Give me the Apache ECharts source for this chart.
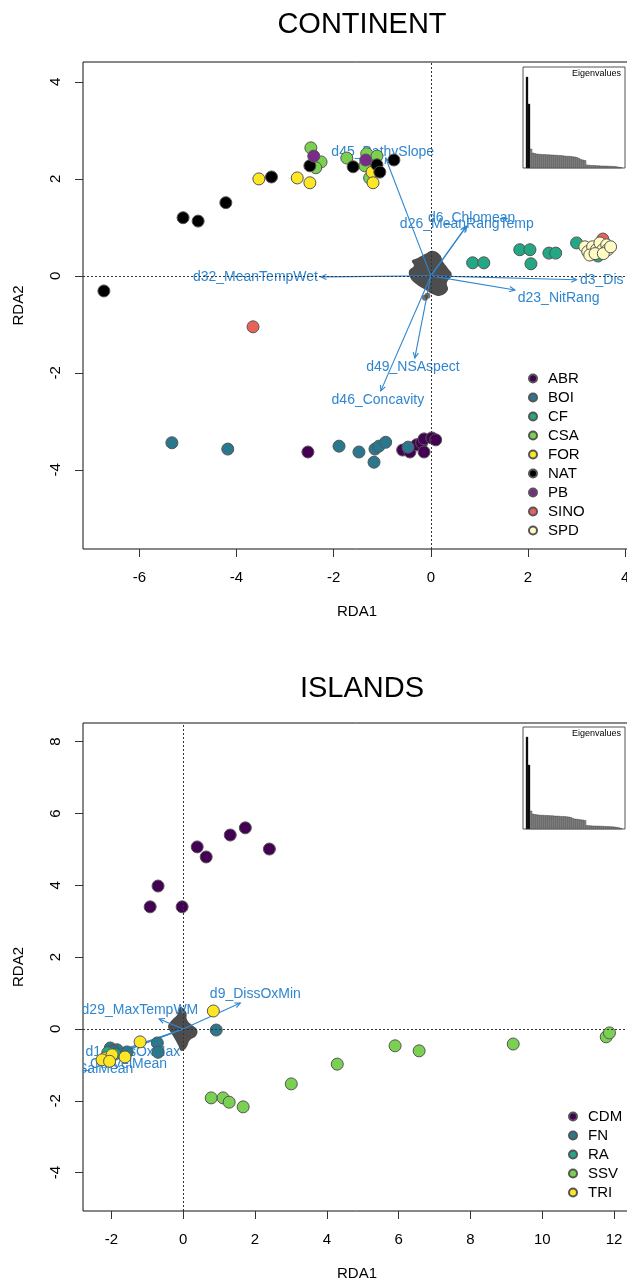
<!DOCTYPE html>
<html>
<head>
<meta charset="utf-8">
<script src="https://cdn.jsdelivr.net/npm/echarts@6/dist/echarts.min.js"></script>
<style>
  html, body { margin: 0; padding: 0; background: #fff; }
  #main { width: 627px; height: 1286px; }
</style>
</head>
<body>
<div id="main"></div>
<script>
// ---- continent data ----
var contGroups = ['ABR', 'BOI', 'CF', 'CSA', 'FOR', 'NAT', 'PB', 'SINO', 'SPD'];
var contColors = ['#440154', '#2A788E', '#22A884', '#7AD151', '#FDE725', '#000000', '#7B2A8C', '#E8625A', '#FFFBC2'];
var contABR = [[-2.53, -3.63], [-0.58, -3.59], [-0.43, -3.63], [-0.29, -3.48], [-0.19, -3.44], [-0.14, -3.36], [-0.14, -3.63], [0.02, -3.34], [0.10, -3.38]];
var contBOI = [[-5.33, -3.44], [-4.18, -3.57], [-1.89, -3.51], [-1.48, -3.63], [-1.15, -3.57], [-1.07, -3.51], [-0.93, -3.43], [-1.17, -3.84], [-0.47, -3.53]];
var contCF = [[0.86, 0.27], [1.09, 0.27], [1.83, 0.54], [2.04, 0.54], [2.06, 0.25], [2.43, 0.47], [2.57, 0.47], [3.00, 0.68], [3.44, 0.41], [3.30, 0.45]];
var contCSA = [[-2.47, 2.64], [-2.26, 2.35], [-2.37, 2.23], [-1.73, 2.43], [-1.32, 2.52], [-1.36, 2.27], [-1.11, 2.47], [-1.26, 2.02]];
var contFOR = [[-3.54, 2.00], [-2.75, 2.02], [-2.49, 1.92], [-1.21, 2.14], [-1.19, 1.92]];
var contNAT = [[-6.73, -0.31], [-5.10, 1.20], [-4.79, 1.13], [-4.22, 1.51], [-3.28, 2.04], [-2.49, 2.27], [-1.60, 2.25], [-1.11, 2.29], [-1.05, 2.14], [-0.76, 2.39]];
var contPB = [[-2.41, 2.47], [-1.34, 2.39]];
var contSINO = [[-3.66, -1.05], [3.54, 0.76]];
var contSPD = [[3.17, 0.60], [3.23, 0.50], [3.33, 0.60], [3.27, 0.43], [3.41, 0.54], [3.48, 0.68], [3.54, 0.54], [3.62, 0.64], [3.64, 0.54], [3.38, 0.46], [3.55, 0.46], [3.70, 0.60]];
var contPoints = [contABR, contBOI, contCF, contCSA, contFOR, contNAT, contPB, contSINO, contSPD];

// SNP cloud outline near the origin
var contCloud = [[-0.12, 0.45], [0.04, 0.52], [0.19, 0.43], [0.25, 0.29], [0.35, 0.16], [0.43, 0.02], [0.33, -0.14], [0.35, -0.29], [0.19, -0.41], [0.02, -0.37], [-0.10, -0.29], [-0.27, -0.19], [-0.41, -0.06], [-0.45, 0.10], [-0.35, 0.21], [-0.39, 0.31], [-0.27, 0.37]];
var contCloudDots = [[-0.12, -0.45], [-0.07, -0.41]];

var contArrowNames = ['d45_BathySlope', 'd32_MeanTempWet', 'd6_Chlomean', 'd26_MeanRangTemp', 'd3_Dis', 'd23_NitRang', 'd49_NSAspect', 'd46_Concavity'];
var contArrowTips = [[-0.93, 2.43], [-2.26, -0.02], [0.74, 1.03], [0.72, 1.01], [3.00, -0.08], [1.73, -0.29], [-0.33, -1.69], [-1.03, -2.37]];
var contLabelPos = [[-0.99, 2.56], [-3.61, -0.02], [0.84, 1.20], [0.74, 1.07], [3.07, -0.08], [2.63, -0.45], [-0.37, -1.88], [-1.09, -2.56]];
var contLabelAlign = ['center', 'center', 'center', 'center', 'left', 'center', 'center', 'center'];

var contEigen = [9.1, 6.4, 1.9, 1.5, 1.45, 1.4, 1.38, 1.36, 1.35, 1.34, 1.33, 1.32, 1.31, 1.3, 1.28, 1.27, 1.26, 1.25,
  1.22, 1.2, 1.18, 1.17, 1.15, 1.12, 1.1, 1.05, 0.95, 0.85, 0.8, 0.75,
  0.3, 0.28, 0.26, 0.25, 0.24, 0.23, 0.22, 0.21, 0.2, 0.2, 0.19, 0.18, 0.17, 0.16, 0.15, 0.12, 0.08, 0.05];

// ---- islands data ----
var islGroups = ['CDM', 'FN', 'RA', 'SSV', 'TRI'];
var islColors = ['#440154', '#2A788E', '#22A884', '#7AD151', '#FDE725'];
var islCDM = [[-0.92, 3.40], [-0.70, 3.98], [-0.03, 3.40], [0.39, 5.07], [0.64, 4.79], [1.31, 5.40], [1.73, 5.60], [2.40, 5.01]];
var islFN = [[0.92, -0.03], [-0.72, -0.39], [-0.70, -0.65], [-2.03, -0.53], [-1.84, -0.58], [-1.56, -0.64], [-1.95, -0.62]];
var islRA = [[-1.90, -0.70], [-2.10, -0.66]];
var islSSV = [[0.78, -1.92], [1.11, -1.92], [1.28, -2.04], [1.67, -2.17], [3.01, -1.53], [4.29, -0.98], [5.90, -0.47], [6.57, -0.61], [9.19, -0.42], [11.78, -0.22], [11.87, -0.11]];
var islTRI = [[0.84, 0.50], [-1.20, -0.36], [-2.17, -0.81], [-1.98, -0.72], [-1.62, -0.78], [-2.26, -0.86], [-2.05, -0.90]];
var islPoints = [islCDM, islFN, islRA, islSSV, islTRI];

var islCloud = [[-0.08, 0.61], [0.08, 0.47], [0.11, 0.25], [0.28, 0.08], [0.39, -0.03], [0.36, -0.19], [0.19, -0.31], [0.08, -0.53], [-0.06, -0.61], [-0.14, -0.45], [-0.25, -0.25], [-0.36, -0.08], [-0.42, 0.08], [-0.31, 0.25], [-0.17, 0.39]];

var islArrowNames = ['d9_DissOxMin', 'd29_MaxTempWM', 'd1_DissOxMax', 'd40_CurVelMean', 'd35_SalMean'];
var islArrowTips = [[1.59, 0.72], [-0.67, 0.28], [-1.75, -0.60], [-1.85, -0.68], [-1.95, -0.74]];
var islLabelPos = [[2.01, 0.97], [0.42, 0.53], [-0.08, -0.64], [-0.45, -0.97], [-1.39, -1.11]];
var islLabelAlign = ['center', 'right', 'right', 'right', 'right'];

var islEigen = [9.2, 6.4, 1.8, 1.5, 1.45, 1.42, 1.4, 1.38, 1.37, 1.36, 1.35, 1.34, 1.33, 1.32, 1.3, 1.29, 1.28, 1.26, 1.25, 1.24, 1.22, 1.2,
  1.15, 1.05, 1.0, 0.98, 0.95, 0.92, 0.9, 0.86,
  0.35, 0.33, 0.32, 0.31, 0.3, 0.3, 0.29, 0.28, 0.27, 0.26, 0.25, 0.24, 0.23, 0.22, 0.2, 0.17, 0.12, 0.06];

var xTicksCont = [-6, -4, -2, 0, 2, 4];
var yTicksCont = [-4, -2, 0, 2, 4];
var xTicksIsl = [-2, 0, 2, 4, 6, 8, 10, 12];
var yTicksIsl = [-4, -2, 0, 2, 4, 6, 8];

var FONT = '"Liberation Sans", Arial, Helvetica, sans-serif';
var ARROW = '#2F86CF';
var CLOUD = '#4D4D4D';

var chart = echarts.init(document.getElementById('main'), null, { renderer: 'canvas' });

function xAxisCfg(gi, min, max, ticks) {
  return {
    type: 'value', gridIndex: gi, min: min, max: max,
    axisLine: { show: false, onZero: false },
    splitLine: { show: false },
    axisTick: { show: true, length: 8, lineStyle: { color: '#333' }, customValues: ticks },
    axisLabel: { customValues: ticks, margin: 21, fontSize: 15, color: '#000', fontFamily: FONT },
    name: 'RDA1', nameLocation: 'middle', nameGap: 55,
    nameTextStyle: { fontSize: 15, color: '#000', fontFamily: FONT }
  };
}
function yAxisCfg(gi, min, max, ticks) {
  return {
    type: 'value', gridIndex: gi, min: min, max: max,
    axisLine: { show: false, onZero: false },
    splitLine: { show: false },
    axisTick: { show: true, length: 8, lineStyle: { color: '#333' }, customValues: ticks },
    axisLabel: { customValues: ticks, margin: 20, rotate: 90, fontSize: 15, color: '#000', fontFamily: FONT },
    name: 'RDA2', nameLocation: 'middle', nameGap: 57,
    nameTextStyle: { fontSize: 15, color: '#000', fontFamily: FONT }
  };
}
function hiddenAxis(gi, min, max) {
  return {
    type: 'value', gridIndex: gi, min: min, max: max,
    axisLine: { show: false, onZero: false }, axisTick: { show: false },
    axisLabel: { show: false }, splitLine: { show: false }
  };
}

function cloudSeries(gi, pts) {
  return {
    type: 'custom', xAxisIndex: gi, yAxisIndex: gi, silent: true,
    data: pts,
    renderItem: function (params, api) {
      if (params.dataIndex !== 0) return null;
      var poly = pts.map(function (p) { return api.coord(p); });
      return { type: 'polygon', shape: { points: poly, smooth: 0.45 }, style: { fill: CLOUD } };
    },
    markLine: {
      silent: true, symbol: ['none', 'none'], label: { show: false },
      lineStyle: { color: '#333', width: 1, type: [2, 2] },
      data: [{ xAxis: 0 }, { yAxis: 0 }]
    }
  };
}

function pointSeries(gi, names, colors, groups) {
  return names.map(function (n, i) {
    return {
      name: n, type: 'scatter', xAxisIndex: gi, yAxisIndex: gi,
      symbol: 'circle', symbolSize: 12,
      itemStyle: { color: colors[i], borderColor: '#555', borderWidth: 1, opacity: 1 },
      data: groups[i]
    };
  });
}

function arrowSeries(gi, tips) {
  return {
    type: 'custom', xAxisIndex: gi, yAxisIndex: gi, silent: true,
    data: tips.map(function (t) { return [0, 0, t[0], t[1]]; }),
    encode: { x: [0, 2], y: [1, 3] },
    renderItem: function (params, api) {
      var p0 = api.coord([api.value(0), api.value(1)]);
      var p1 = api.coord([api.value(2), api.value(3)]);
      var ang = Math.atan2(p1[1] - p0[1], p1[0] - p0[0]);
      var L = 6, a = Math.PI / 7;
      var h1 = [p1[0] - L * Math.cos(ang - a), p1[1] - L * Math.sin(ang - a)];
      var h2 = [p1[0] - L * Math.cos(ang + a), p1[1] - L * Math.sin(ang + a)];
      return {
        type: 'group', children: [
          { type: 'line', shape: { x1: p0[0], y1: p0[1], x2: p1[0], y2: p1[1] }, style: { stroke: ARROW, lineWidth: 1.1 } },
          { type: 'polyline', shape: { points: [h1, p1, h2] }, style: { stroke: ARROW, lineWidth: 1.1, fill: null } }
        ]
      };
    }
  };
}

function labelSeries(gi, pos, names, aligns) {
  return {
    type: 'custom', xAxisIndex: gi, yAxisIndex: gi, silent: true, clip: true,
    data: pos,
    renderItem: function (params, api) {
      var p = api.coord([api.value(0), api.value(1)]);
      return {
        type: 'text', x: p[0], y: p[1],
        style: {
          text: names[params.dataIndex], fill: ARROW, fontSize: 14, fontFamily: FONT,
          align: aligns[params.dataIndex], verticalAlign: 'middle'
        }
      };
    }
  };
}

// eigenvalue bars drawn as rects through the inset axes
function eigenSeries(gi, vals) {
  return {
    type: 'custom', xAxisIndex: gi, yAxisIndex: gi, silent: true,
    data: vals.map(function (v, i) { return [i + 1, v]; }),
    renderItem: function (params, api) {
      var top = api.coord([api.value(0) - 0.5, api.value(1)]);
      var bot = api.coord([api.value(0) + 0.5, 0]);
      return {
        type: 'rect',
        shape: { x: top[0], y: top[1], width: bot[0] - top[0], height: bot[1] - top[1] },
        style: { fill: params.dataIndex < 2 ? '#000' : '#8a8a8a', stroke: '#3a3a3a', lineWidth: 0.4 }
      };
    }
  };
}

var series = [];
series.push(cloudSeries(0, contCloud));
series.push({
  type: 'scatter', xAxisIndex: 0, yAxisIndex: 0, silent: true, symbolSize: 6,
  itemStyle: { color: CLOUD }, data: contCloudDots
});
series = series.concat(pointSeries(0, contGroups, contColors, contPoints));
series.push(arrowSeries(0, contArrowTips));
series.push(labelSeries(0, contLabelPos, contArrowNames, contLabelAlign));

series.push(cloudSeries(1, islCloud));
series = series.concat(pointSeries(1, islGroups, islColors, islPoints));
series.push(arrowSeries(1, islArrowTips));
series.push(labelSeries(1, islLabelPos, islArrowNames, islLabelAlign));

series.push(eigenSeries(2, contEigen));
series.push(eigenSeries(3, islEigen));

var legendBase = {
  orient: 'vertical', itemWidth: 8, itemHeight: 8, itemGap: 4, icon: 'circle',
  selectedMode: false, padding: 0,
  textStyle: { fontSize: 15, lineHeight: 15, color: '#000', fontFamily: FONT, padding: [0, 0, 0, 6] }
};

var option = {
  animation: false,
  backgroundColor: '#fff',
  title: [
    { text: 'CONTINENT', left: 357, top: 5, textAlign: 'center',
      textStyle: { fontSize: 29, fontWeight: 'normal', color: '#000', fontFamily: FONT } },
    { text: 'ISLANDS', left: 357, top: 669, textAlign: 'center',
      textStyle: { fontSize: 29, fontWeight: 'normal', color: '#000', fontFamily: FONT } },
    { text: 'Eigenvalues', right: 6, top: 69, padding: 0,
      textStyle: { fontSize: 9, fontWeight: 'normal', color: '#000', fontFamily: FONT } },
    { text: 'Eigenvalues', right: 6, top: 729, padding: 0,
      textStyle: { fontSize: 9, fontWeight: 'normal', color: '#000', fontFamily: FONT } }
  ],
  legend: [
    Object.assign({}, legendBase, { data: contGroups, left: 528, top: 371 }),
    Object.assign({}, legendBase, { data: islGroups, left: 568, top: 1109 })
  ],
  grid: [
    { left: 83, top: 62, width: 548, height: 487, show: true, borderColor: '#111', borderWidth: 1, outerBoundsMode: 'none' },
    { left: 83, top: 723, width: 548, height: 488, show: true, borderColor: '#111', borderWidth: 1, outerBoundsMode: 'none' },
    { left: 523, top: 67, width: 102, height: 101, show: true, borderColor: '#555', borderWidth: 1, outerBoundsMode: 'none' },
    { left: 523, top: 727, width: 102, height: 102, show: true, borderColor: '#555', borderWidth: 1, outerBoundsMode: 'none' }
  ],
  xAxis: [
    xAxisCfg(0, -7.16, 4.12, xTicksCont),
    xAxisCfg(1, -2.79, 12.47, xTicksIsl),
    hiddenAxis(2, -1, 50),
    hiddenAxis(3, -1, 50)
  ],
  yAxis: [
    yAxisCfg(0, -5.63, 4.41, yTicksCont),
    yAxisCfg(1, -5.07, 8.52, yTicksIsl),
    hiddenAxis(2, 0, 10.1),
    hiddenAxis(3, 0, 10.2)
  ],
  series: series
};

chart.setOption(option);
</script>
</body>
</html>
